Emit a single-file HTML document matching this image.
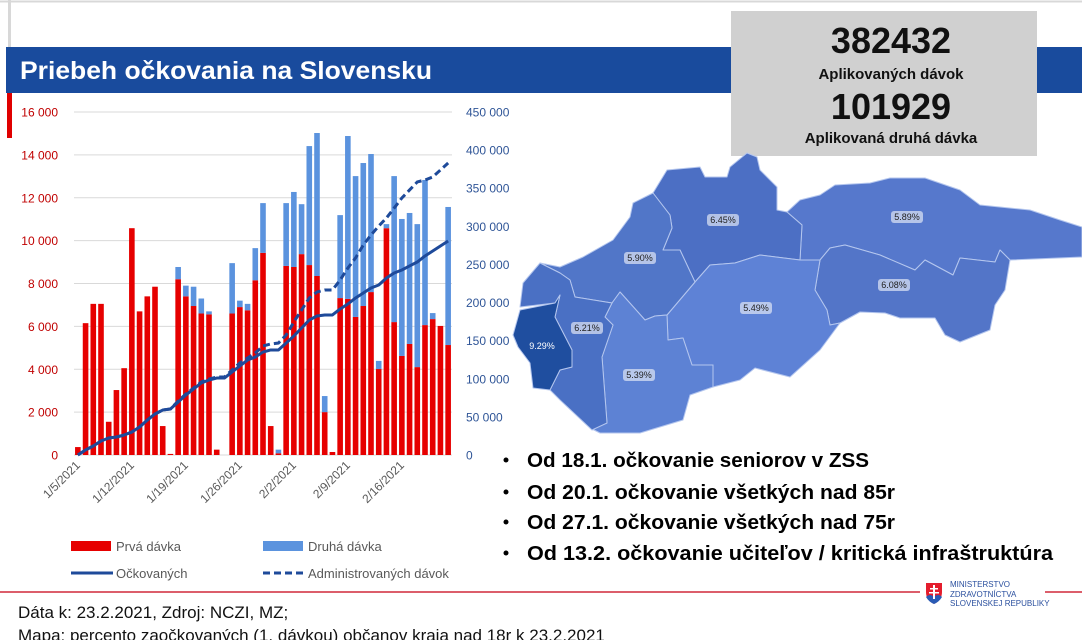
<!DOCTYPE html>
<html><head><meta charset="utf-8"><style>
html,body{margin:0;padding:0;background:#fff;}
svg{display:block;font-family:"Liberation Sans",sans-serif;}
</style></head><body>
<svg id="page" width="1082" height="640" viewBox="0 0 1082 640" xmlns="http://www.w3.org/2000/svg">
<rect x="0" y="0" width="1082" height="640" fill="#fff"/>
<line x1="0" y1="1.5" x2="1082" y2="1.5" stroke="#d8d8d8" stroke-width="2"/>
<line x1="9.5" y1="0" x2="9.5" y2="47" stroke="#d8d8d8" stroke-width="3"/>
<rect x="6" y="47" width="1076" height="46" fill="#194b9d"/>
<text x="20" y="79" fill="#fff" font-size="25" font-weight="bold" textLength="412" lengthAdjust="spacingAndGlyphs">Priebeh očkovania na Slovensku</text>
<rect x="7" y="93" width="5" height="45" fill="#e00000"/>

<g>
<rect x="731" y="11" width="306" height="145" fill="#d0d0d0"/>
<text x="891" y="53" text-anchor="middle" font-size="36" font-weight="bold" fill="#111">382432</text>
<text x="891" y="79" text-anchor="middle" font-size="15" font-weight="bold" fill="#111">Aplikovaných dávok</text>
<text x="891" y="119" text-anchor="middle" font-size="36" font-weight="bold" fill="#111">101929</text>
<text x="891" y="143" text-anchor="middle" font-size="15" font-weight="bold" fill="#111">Aplikovaná druhá dávka</text>
</g>

<g id="chart"></g>

<g font-size="13" fill="#595959">
<rect x="71" y="541" width="40" height="10" fill="#e60000"/>
<text x="116" y="551">Prvá dávka</text>
<rect x="263" y="541" width="40" height="10" fill="#5b93de"/>
<text x="308" y="551">Druhá dávka</text>
<line x1="71" y1="573" x2="113" y2="573" stroke="#1e4a9a" stroke-width="3"/>
<text x="116" y="578">Očkovaných</text>
<line x1="263" y1="573" x2="303" y2="573" stroke="#1e4a9a" stroke-width="3" stroke-dasharray="7,4"/>
<text x="308" y="578">Administrovaných dávok</text>
</g>

<g stroke="#b4c6ee" stroke-width="1" stroke-linejoin="round">
<polygon fill="#5678cc" points="787,212 800,200 820,195 835,185 870,183 890,178 925,178 960,190 980,205 1030,210 1060,220 1082,227 1082,257 1010,260 1000,250 995,262 960,258 953,275 925,260 915,270 880,255 845,245 830,248 820,260 800,260 802,225"/>
<polygon fill="#5375c8" points="820,260 830,248 845,245 880,255 915,270 925,260 953,275 960,258 995,262 1000,250 1010,260 1005,290 995,305 990,330 960,342 945,335 935,318 900,318 885,313 860,312 840,323 830,325 827,310 815,290"/>
<polygon fill="#4c6fc4" points="653,193 667,170 700,167 705,177 727,177 730,167 747,153 757,157 760,170 777,187 777,210 787,212 802,225 800,260 760,255 735,263 710,265 695,282 680,250 663,250 672,228 670,215"/>
<polygon fill="#5e82d6" points="695,282 710,265 735,263 760,255 800,260 820,260 815,290 827,310 830,325 840,323 820,350 790,377 755,368 740,380 713,387 713,365 692,365 683,338 668,340 667,315"/>
<polygon fill="#5176c8" points="653,193 670,215 672,228 663,250 680,250 695,282 667,315 655,316 645,320 620,292 612,303 575,297 570,280 560,273 540,263 560,267 583,257 613,240 630,217 633,203"/>
<polygon fill="#5d82d4" points="612,303 620,292 645,320 655,316 667,315 668,340 683,338 692,365 713,365 713,387 690,395 683,420 640,433 600,433 590,428 607,423 602,357 613,325 605,317"/>
<polygon fill="#4a70c4" points="520,307 523,283 540,263 560,273 570,280 575,297 612,303 605,317 613,325 602,357 607,423 592,430 560,400 550,390 560,370 572,367 572,350 555,317 560,295 555,303"/>
<polygon fill="#1f4e9f" points="513,335 520,310 555,303 560,295 555,317 572,350 572,367 560,370 550,390 533,388 530,363 518,347"/>
</g>
<g font-size="9" text-anchor="middle">
<g><rect x="707" y="214" width="32" height="12" rx="3" fill="#dfe6f5" opacity="0.7"/><text x="723" y="223" fill="#222">6.45%</text></g>
<g><rect x="891" y="211" width="32" height="12" rx="3" fill="#dfe6f5" opacity="0.7"/><text x="907" y="220" fill="#222">5.89%</text></g>
<g><rect x="624" y="252" width="32" height="12" rx="3" fill="#dfe6f5" opacity="0.7"/><text x="640" y="261" fill="#222">5.90%</text></g>
<g><rect x="571" y="322" width="32" height="12" rx="3" fill="#dfe6f5" opacity="0.7"/><text x="587" y="331" fill="#222">6.21%</text></g>
<g><text x="542" y="349" fill="#fff">9.29%</text></g>
<g><rect x="623" y="369" width="32" height="12" rx="3" fill="#dfe6f5" opacity="0.7"/><text x="639" y="378" fill="#222">5.39%</text></g>
<g><rect x="740" y="302" width="32" height="12" rx="3" fill="#dfe6f5" opacity="0.7"/><text x="756" y="311" fill="#222">5.49%</text></g>
<g><rect x="878" y="279" width="32" height="12" rx="3" fill="#dfe6f5" opacity="0.7"/><text x="894" y="288" fill="#222">6.08%</text></g>
</g>

<g font-size="20" font-weight="bold" fill="#000">
<circle cx="506" cy="460" r="2.5"/><text x="527" y="467" textLength="342" lengthAdjust="spacingAndGlyphs">Od 18.1. očkovanie seniorov v ZSS</text>
<circle cx="506" cy="492" r="2.5"/><text x="527" y="499" textLength="368" lengthAdjust="spacingAndGlyphs">Od 20.1. očkovanie všetkých nad 85r</text>
<circle cx="506" cy="522" r="2.5"/><text x="527" y="529" textLength="368" lengthAdjust="spacingAndGlyphs">Od 27.1. očkovanie všetkých nad 75r</text>
<circle cx="506" cy="553" r="2.5"/><text x="527" y="560" textLength="526" lengthAdjust="spacingAndGlyphs">Od 13.2. očkovanie učiteľov / kritická infraštruktúra</text>
</g>

<line x1="0" y1="592" x2="920" y2="592" stroke="#d0283a" stroke-width="1.5"/>
<line x1="1045" y1="592" x2="1082" y2="592" stroke="#d0283a" stroke-width="1.5"/>
<g>
<path d="M926,583 h16 v9 q0,8 -8,12 q-8,-4 -8,-12 z" fill="#e41d2d"/>
<path d="M926,597 q4,-4 8,0 q4,-4 8,0 q-3,5 -8,7 q-5,-2 -8,-7z" fill="#2a5bb5"/>
<path d="M933,585 h2 v14 h-2 z M930,588 h8 v1.5 h-8z M929,592 h10 v1.5 h-10z" fill="#fff"/>
<text x="950" y="587" font-size="8" fill="#2a4f9e">MINISTERSTVO</text>
<text x="950" y="597" font-size="8" fill="#2a4f9e">ZDRAVOTNÍCTVA</text>
<text x="950" y="606" font-size="8" fill="#2a4f9e">SLOVENSKEJ REPUBLIKY</text>
</g>
<text x="18" y="618" font-size="17" fill="#111">Dáta k: 23.2.2021, Zdroj: NCZI, MZ;</text>
<text x="18" y="641" font-size="17" fill="#111">Mapa: percento zaočkovaných (1. dávkou) občanov kraja nad 18r k 23.2.2021</text>
</svg>
<script>
const firstDose = [370,6150,7050,7050,1550,3030,4050,10580,6700,7400,7850,1350,50,8200,7400,6950,6600,6560,250,0,6600,6900,6750,8150,9430,1350,80,8820,8770,9370,8860,8350,2000,140,7320,7280,6440,6950,7600,4010,10580,6200,4620,5180,4100,6060,6340,6020,5130];
const secondDose = [0,0,0,0,0,0,0,0,0,0,0,0,0,570,500,900,700,140,0,0,2350,300,300,1500,2320,0,170,2930,3500,2330,5550,6670,750,0,3870,7600,6570,6670,6440,380,190,6810,6390,6110,6670,6770,280,0,6440];
const vaccinated = [0,6.6,11.8,18.4,22.3,23.6,26.2,30.2,36.7,45.9,53.8,59.0,60.4,69.5,78.7,86.6,94.5,98.4,101,101,108.9,116.8,124.6,128.6,135.1,137.8,137.8,146.9,156.1,166.6,177.1,182.4,183.7,183.7,191.6,198.1,206,212.5,219.1,223,232.2,238.8,242.7,248,253.2,261.1,267.6,274.2,280.8];
const administered = [0,6.6,11.8,18.4,22.3,23.6,26.2,30.2,36.7,45.9,53.8,59.0,60.4,70.8,80,87.9,95.8,99.7,102.3,102.3,111.5,120.7,127.3,133.8,143,145.6,146.9,157.4,174.5,190.2,206,213.9,216.5,216.5,229.6,245.3,258.5,275.5,288.6,300.4,310.9,324,337.2,347.7,358.2,360.8,364.7,373.9,383.1];
const leftTicks = [0,2000,4000,6000,8000,10000,12000,14000,16000];
const rightTicks = [0,50,100,150,200,250,300,350,400,450];
const dateLabels = ["1/5/2021","1/12/2021","1/19/2021","1/26/2021","2/2/2021","2/9/2021","2/16/2021"];
const dateLabelIndex = [0,7,14,21,28,35,42];

const NS = "http://www.w3.org/2000/svg";
const g = document.getElementById('chart');
const X0 = 74, X1 = 452, Y0 = 455, YT = 112;
const n = firstDose.length;
const slot = (X1 - X0) / n;
const xc = i => X0 + (i + 0.5) * slot;
const yL = v => Y0 - v / 16000 * (Y0 - YT);
const yR = v => Y0 - v / 450 * (Y0 - YT);
function mk(tag, attrs) { const e = document.createElementNS(NS, tag); for (const k in attrs) e.setAttribute(k, attrs[k]); g.appendChild(e); return e; }

leftTicks.forEach(t => {
  const y = yL(t);
  if (t > 0) { const gl = mk('line', {x1: X0, x2: X1, y1: y, y2: y, stroke: '#d9d9d9', 'stroke-width': 1});
  
   }
  const tx = mk('text', {x: 58, y: y + 4.5, 'text-anchor': 'end', 'font-size': 12, fill: '#c00000'});
  tx.textContent = t === 0 ? "0" : (t/1000) + " 000";
  
  
});
rightTicks.forEach(t => {
  const y = yR(t);
  const tx = mk('text', {x: 466, y: y + 4.5, 'font-size': 12, fill: '#2f5597'});
  tx.textContent = t === 0 ? "0" : t + " 000";
  
  
});
const ax = mk('line', {x1: X0, x2: X1, y1: Y0, y2: Y0, stroke: '#d9d9d9', 'stroke-width': 1});



for (let i = 0; i < n; i++) {
  const bw = 5.6, x = xc(i) - bw / 2;
  const yr = yL(firstDose[i]);
  const r = mk('rect', {x: x, y: yr, width: bw, height: Y0 - yr, fill: '#e60000'});
  
  
  if (secondDose[i] > 0) {
    const yb = yL(firstDose[i] + secondDose[i]);
    const b = mk('rect', {x: x, y: yb, width: bw, height: yr - yb, fill: '#5b93de'});
    
    
  }
}
const p1 = mk('polyline', {points: vaccinated.map((v, i) => xc(i) + ',' + yR(v)).join(' '), fill: 'none', stroke: '#1e4a9a', 'stroke-width': 3, 'stroke-linejoin': 'round'});


const p2 = mk('polyline', {points: administered.map((v, i) => xc(i) + ',' + yR(v)).join(' '), fill: 'none', stroke: '#1e4a9a', 'stroke-width': 3, 'stroke-dasharray': '7,4'});



dateLabels.forEach((lab, k) => {
  const x = xc(dateLabelIndex[k]) + 3, y = 466;
  const tx = mk('text', {x: x, y: y, 'text-anchor': 'end', 'font-size': 12, fill: '#595959', transform: 'rotate(-45 ' + x + ' ' + y + ')'});
  tx.textContent = lab;
  
  
});
</script>
</body></html>
